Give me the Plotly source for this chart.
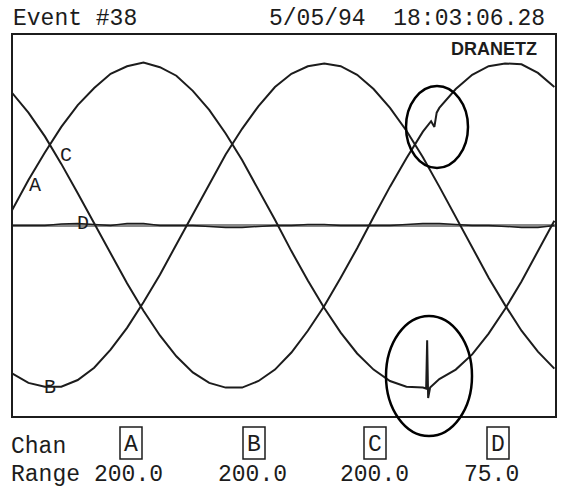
import plotly.graph_objects as go

# base time grid (ms) for one 60 Hz cycle as shown on the screen
time_ms = [0, 0.5, 1, 1.5, 2, 2.5, 3, 3.5, 4, 4.5, 5, 5.5, 6, 6.5, 7, 7.5, 8, 8.5,
           9, 9.5, 10, 10.5, 11, 11.5, 12, 12.5, 13, 13.5, 14, 14.5, 15, 15.5, 16, 16.5]

# channel A, with the short spike near the bottom of its trough
a_time_ms = [0, 0.5, 1, 1.5, 2, 2.5, 3, 3.5, 4, 4.5, 5, 5.5, 6, 6.5, 7, 7.5, 8, 8.5,
             9, 9.5, 10, 10.5, 11, 11.5, 12, 12.5, 12.6, 12.63, 12.66, 12.72,
             13, 13.5, 14, 14.5, 15, 15.5, 16, 16.5]
a_volts = [16, 48, 77, 104, 127, 145, 160, 168, 172, 167, 158, 142, 122, 97, 69, 38, 6, -27,
           -58, -87, -113, -135, -152, -164, -170, -171, -172, -121, -182, -171,
           -162, -152, -136, -114, -88, -59, -27, 5]

b_volts = [-156, -166, -170, -170, -163, -150, -131, -108, -81, -52, -20, 12, 44, 75, 102, 126, 146, 160,
           168, 171, 168, 159, 144, 124, 100, 72, 41, 9, -23, -55, -84, -111, -133, -151]

# channel C, with the small notch on its rising edge
c_time_ms = [0, 0.5, 1, 1.5, 2, 2.5, 3, 3.5, 4, 4.5, 5, 5.5, 6, 6.5, 7, 7.5, 8, 8.5,
             9, 9.5, 10, 10.5, 11, 11.5, 12, 12.5, 12.75, 12.85, 12.92,
             13, 13.5, 14, 14.5, 15, 15.5, 16, 16.5]
c_volts = [140, 119, 94, 65, 34, 2, -30, -61, -90, -116, -138, -155, -166, -171, -171, -164, -152, -134,
           -111, -85, -55, -24, 9, 41, 71, 99, 110, 104, 119,
           124, 144, 159, 168, 171, 170, 161, 146]

d_volts = [0, 0, 0, 1.5, 2, 1, 0, 2, 2, 0, 0, 0, -1, -2, -2, -1, 0, 0,
           1, 1, 0, 0, 0, 0, 1, 2, 2, 1, 0, 0, -1, -2, -2, 0]

channels = ["A", "B", "C", "D"]
ranges = ["200.0", "200.0", "200.0", "75.0"]

W, H = 563, 487
L, R, T, B = 12, 556, 34, 417


def xp(px):
    return (px - L) / (R - L)


def yp(py):
    return (B - py) / (B - T)


ink = "#1c1c1c"
mono = "Liberation Mono"

fig = go.Figure()
fig.add_trace(go.Scatter(x=[time_ms[0], time_ms[-1] + 0.05], y=[0, 0], mode="lines",
                         line=dict(color="#8a8a8a", width=3), hoverinfo="skip"))
fig.add_trace(go.Scatter(x=time_ms, y=d_volts, mode="lines", line=dict(color=ink, width=1.5)))
fig.add_trace(go.Scatter(x=a_time_ms, y=a_volts, mode="lines", line=dict(color=ink, width=2)))
fig.add_trace(go.Scatter(x=time_ms, y=b_volts, mode="lines", line=dict(color=ink, width=2)))
fig.add_trace(go.Scatter(x=c_time_ms, y=c_volts, mode="lines", line=dict(color=ink, width=2)))

ann = []


def text(s, px, py, size=23, anchor="left", family=mono):
    ann.append(dict(text=s, x=xp(px), y=yp(py), xref="paper", yref="paper",
                    xanchor=anchor, yanchor="middle", showarrow=False,
                    font=dict(family=family, size=size, color=ink)))


text("Event #38", 11, 19)
text("5/05/94  18:03:06.28", 547, 19, anchor="right")
text("<b>DRANETZ</b>", 539, 49, size=18, anchor="right", family="Liberation Sans")

# labels on the traces
text("A", 35, 185, size=20, anchor="center")
text("C", 66, 155, size=20, anchor="center")
text("D", 83, 223, size=20, anchor="center")
text("B", 50, 387, size=20, anchor="center")

# channel / range footer
text("Chan", 9, 447)
text("Range", 9, 475)
box_x = [131, 254, 375, 498]
range_x = [92, 216, 338, 462]
shapes = [dict(type="rect", xref="paper", yref="paper", x0=0, x1=1, y0=0, y1=1,
               line=dict(color=ink, width=2))]
for ch, rg, bx, rx in zip(channels, ranges, box_x, range_x):
    text(ch, bx, 445, anchor="center")
    text(rg, rx, 475)
    shapes.append(dict(type="rect", xref="paper", yref="paper",
                       x0=xp(bx - 11), x1=xp(bx + 11), y0=yp(459), y1=yp(427),
                       line=dict(color=ink, width=1.5)))

# hand-drawn circles around the disturbance
shapes.append(dict(type="circle", xref="paper", yref="paper",
                   x0=xp(406), x1=xp(468), y0=yp(168), y1=yp(86),
                   line=dict(color="black", width=2.5)))
shapes.append(dict(type="circle", xref="paper", yref="paper",
                   x0=xp(386), x1=xp(472), y0=yp(436), y1=yp(316),
                   line=dict(color="black", width=2.5)))

fig.update_layout(
    width=W, height=H,
    margin=dict(l=L, r=W - R, t=T, b=H - B),
    paper_bgcolor="white", plot_bgcolor="white",
    showlegend=False,
    annotations=ann, shapes=shapes,
    xaxis=dict(range=[0, 16.55], visible=False),
    yaxis=dict(range=[-202, 202], visible=False),
)
# the page's default 8px body margin would push the figure off the window
fig.write_html("out.html", config={"displayModeBar": False},
               post_script="document.body.style.margin='0px';")
